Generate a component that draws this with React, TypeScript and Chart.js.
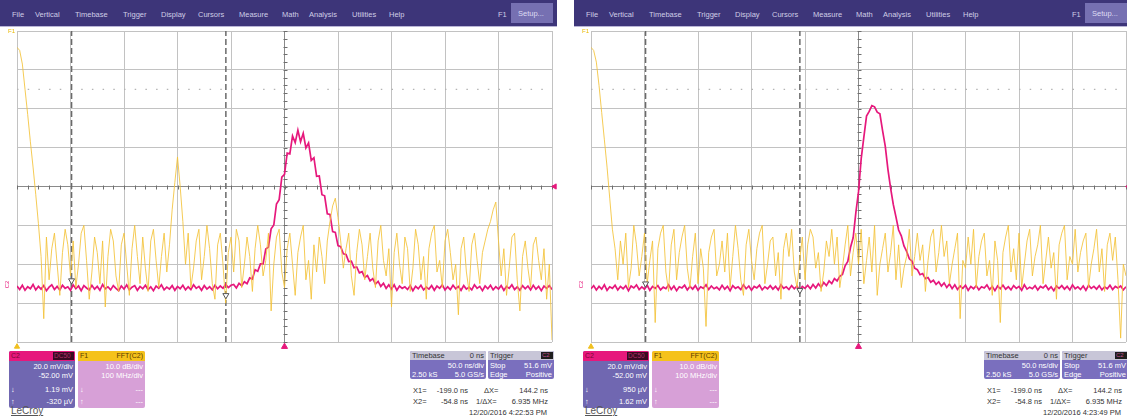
import React, { useEffect, useRef } from "react";
import { Chart, registerables } from "chart.js";

Chart.register(...registerables);

// ---- sampling grid (ns) ----
const START_NS = -250;
const STEP_NS = 2.5;
const X_MIN_NS = -250;
const X_MAX_NS = 250;
const X_DIV_NS = 50;
const Y_MIN_DIV = -4;
const Y_MAX_DIV = 4;

// ---- cursor readouts ----
const cursorX1Ns = -199.0;
const cursorX2Ns = -54.8;
const referenceLevelDiv = 2.5;
const triggerLevelDiv = 0;

// ---- left capture: C2 (divisions) ----
const leftC2 = [
  -2.56, -2.65, -2.54, -2.67, -2.58, -2.63, -2.52, -2.66, -2.57, -2.64,
  -2.55, -2.68, -2.59, -2.53, -2.65, -2.57, -2.66, -2.54, -2.62, -2.58,
  -2.67, -2.53, -2.63, -2.56, -2.68, -2.55, -2.61, -2.66, -2.54, -2.64,
  -2.57, -2.67, -2.52, -2.63, -2.58, -2.66, -2.55, -2.62, -2.68, -2.56,
  -2.64, -2.53, -2.66, -2.59, -2.55, -2.67, -2.57, -2.63, -2.54, -2.65,
  -2.58, -2.68, -2.56, -2.62, -2.53, -2.66, -2.59, -2.64, -2.55, -2.67,
  -2.57, -2.63, -2.54, -2.66, -2.58, -2.65, -2.53, -2.62, -2.57, -2.67,
  -2.55, -2.64, -2.58, -2.66, -2.54, -2.63, -2.56, -2.62, -2.52, -2.60,
  -2.54, -2.52, -2.61, -2.49, -2.55, -2.45, -2.50, -2.35, -2.38, -2.14,
  -2.18, -1.99, -1.99, -1.61, -1.56, -1.09, -0.99, -0.45, -0.34, 0.24,
  0.31, 0.86, 0.84, 1.30, 1.13, 1.45, 1.15, 1.37, 0.99, 1.12,
  0.67, 0.74, 0.26, 0.27, -0.21, -0.24, -0.70, -0.72, -1.16, -1.18,
  -1.52, -1.55, -1.73, -1.75, -1.93, -1.92, -2.09, -2.07, -2.22, -2.19,
  -2.34, -2.29, -2.43, -2.37, -2.51, -2.44, -2.57, -2.49, -2.62, -2.53,
  -2.64, -2.53, -2.67, -2.56, -2.62, -2.58, -2.65, -2.55, -2.68, -2.57,
  -2.63, -2.54, -2.66, -2.59, -2.64, -2.55, -2.67, -2.56, -2.62, -2.53,
  -2.66, -2.58, -2.65, -2.54, -2.63, -2.57, -2.67, -2.55, -2.64, -2.59,
  -2.66, -2.53, -2.62, -2.57, -2.68, -2.56, -2.63, -2.54, -2.66, -2.58,
  -2.64, -2.55, -2.67, -2.57, -2.62, -2.53, -2.65, -2.58, -2.67, -2.55,
  -2.63, -2.56, -2.66, -2.54, -2.64, -2.57, -2.68, -2.56, -2.62, -2.55,
  -2.65,
];

// ---- left capture: F1 = FFT(C2) (divisions) ----
const leftF1 = [
  3.58, 3.5, 3.15, 2.5, 1.85, 1.15, 0.5, -0.2, -0.95, -1.8, -3.4,
  -1.3, -2.4, -1.6, -1.2, -2.0, -2.8, -1.7, -1.1, -1.5, -2.3,
  -1.4, -2.6, -2.0, -1.2, -1.0, -1.9, -2.9, -2.2, -1.3, -1.7,
  -2.5, -1.4, -3.1, -1.8, -1.1, -1.4, -2.3, -2.7, -1.5, -1.2,
  -2.0, -2.8, -1.6, -1.0, -1.8, -2.5, -1.3, -2.1, -2.7, -1.4,
  -1.1, -1.9, -2.6, -1.8, -1.2, -2.2, -1.5,
  -0.6, 0.1, 0.76, 0.0, -0.9,
  -2.0, -1.2, -2.6, -2.1, -1.4, -1.1, -2.4, -1.8,
  -1.0, -1.6, -2.5, -2.9, -1.5, -1.2, -2.0, -3.0, -1.7, -1.3,
  -2.2, -1.1, -1.4, -2.6, -2.0, -1.3, -1.8, -2.7, -1.6, -1.0,
  -1.5, -2.3, -1.9, -1.2, -3.2, -2.0, -1.3, -1.1, -2.2, -2.6,
  -1.6, -1.2, -2.0, -2.8, -1.7, -1.3, -1.0, -2.4, -1.9, -2.9,
  -1.5, -2.2, -1.3, -1.8, -2.5, -1.4, -0.9, -0.5, -0.3, -0.8,
  -1.4, -2.1, -1.6, -1.2, -2.3, -2.8, -1.7, -1.1, -1.5, -2.4,
  -1.8, -1.2, -2.1, -2.6, -1.4, -1.0, -1.9, -2.3, -1.6, -3.1,
  -1.7, -1.2, -2.0, -2.5, -1.3, -1.6, -2.7, -2.1, -1.1, -1.5,
  -2.4, -1.8, -2.9, -1.6, -1.2, -1.0, -2.2, -1.9, -2.6, -1.4,
  -1.1, -1.7, -2.4, -2.0, -3.3, -1.6, -1.3, -2.2, -2.7, -1.5,
  -1.2, -1.9, -2.5, -1.7, -1.4, -1.1, -0.9, -0.6, -0.4, -1.4,
  -2.3, -1.6, -2.8, -2.1, -1.3, -1.2, -2.4, -3.2, -1.8, -1.4,
  -2.1, -2.6, -1.5, -1.3, -1.9, -2.4, -1.6, -2.9, -2.0, -3.95,
];

// ---- right capture: C2 (divisions) ----
const rightC2 = [
  -2.63, -2.55, -2.66, -2.57, -2.64, -2.53, -2.67, -2.58, -2.62, -2.54,
  -2.66, -2.57, -2.63, -2.55, -2.68, -2.56, -2.61, -2.53, -2.65, -2.58,
  -2.64, -2.54, -2.67, -2.57, -2.62, -2.55, -2.66, -2.59, -2.63, -2.53,
  -2.65, -2.56, -2.68, -2.58, -2.61, -2.54, -2.66, -2.57, -2.64, -2.55,
  -2.67, -2.58, -2.62, -2.53, -2.65, -2.56, -2.63, -2.59, -2.66, -2.54,
  -2.64, -2.57, -2.68, -2.55, -2.62, -2.58, -2.65, -2.53, -2.63, -2.56,
  -2.67, -2.57, -2.61, -2.54, -2.66, -2.58, -2.63, -2.55, -2.64, -2.57,
  -2.66, -2.53, -2.62, -2.58, -2.65, -2.55, -2.63, -2.56, -2.67, -2.57,
  -2.62, -2.54, -2.63, -2.52, -2.61, -2.50, -2.59, -2.47, -2.55, -2.43,
  -2.50, -2.37, -2.43, -2.31, -2.26, -2.04, -1.93, -1.57, -1.32, -0.68,
  -0.14, 0.71, 1.27, 1.81, 1.93, 2.08, 2.05, 1.91, 1.87, 1.44,
  1.04, 0.44, -0.04, -0.46, -0.78, -1.12, -1.27, -1.53, -1.67, -1.86,
  -1.92, -2.10, -2.14, -2.27, -2.24, -2.37, -2.34, -2.46, -2.41, -2.52,
  -2.45, -2.56, -2.48, -2.60, -2.51, -2.63, -2.53, -2.65, -2.56, -2.62,
  -2.54, -2.67, -2.57, -2.63, -2.55, -2.66, -2.58, -2.61, -2.53, -2.65,
  -2.57, -2.68, -2.56, -2.63, -2.54, -2.64, -2.58, -2.66, -2.55, -2.62,
  -2.57, -2.67, -2.53, -2.64, -2.59, -2.63, -2.55, -2.66, -2.57, -2.61,
  -2.54, -2.65, -2.58, -2.68, -2.56, -2.62, -2.55, -2.64, -2.57, -2.66,
  -2.53, -2.63, -2.58, -2.65, -2.56, -2.67, -2.54, -2.62, -2.57, -2.64,
  -2.55, -2.66, -2.58, -2.63, -2.54, -2.65, -2.57, -2.61, -2.56, -2.66,
  -2.58,
];

// ---- right capture: F1 = FFT(C2) (divisions) ----
const rightF1 = [
  3.58, 3.5, 3.2, 2.6, 1.9, 1.2, 0.5, -0.3, -1.1, -1.6, -2.4,
  -1.4, -2.0, -1.2, -2.6, -2.1, -1.0, -1.5, -2.3, -1.8, -1.2,
  -2.5, -1.9, -1.4, -3.5, -1.6, -1.2, -1.0, -2.2, -2.7, -1.5,
  -1.1, -2.4, -1.7, -1.3, -1.0, -2.1, -2.6, -1.8, -1.2, -2.5,
  -1.6, -2.1, -3.6, -1.7, -1.3, -1.1, -2.3, -2.0, -1.4, -2.2,
  -1.2, -2.6, -1.8, -1.0, -1.6, -2.4, -2.8, -1.5, -1.1, -1.9,
  -2.4, -1.6, -1.2, -1.0, -2.5, -2.0, -1.4, -1.3, -2.3, -1.7,
  -2.9, -1.6, -1.2, -1.8, -1.1, -2.2, -2.6, -1.9, -1.3, -2.4,
  -1.5, -1.1, -1.3, -2.1, -1.7, -2.7, -2.2, -1.4, -1.8, -1.1,
  -2.0, -1.3, -2.6, -2.1, -1.5, -1.0, -2.3, -1.7, -1.2, -2.0,
  -1.1, -2.5, -1.9, -1.3, -2.2, -1.0, -2.8, -2.0, -1.6, -1.2,
  -2.2, -1.7, -1.0, -2.4, -1.5, -2.6, -2.1, -1.8, -1.1, -2.3,
  -1.8, -1.2, -1.9, -1.5, -2.7, -1.9, -1.3, -1.1, -2.2, -1.7,
  -1.0, -1.8, -1.4, -2.5, -2.0, -1.6, -1.2, -3.4, -1.9, -2.1,
  -1.3, -2.0, -1.1, -2.6, -1.8, -1.4, -1.2, -2.3, -1.9, -2.8,
  -1.4, -1.9, -3.5, -1.7, -1.3, -1.0, -2.2, -1.6, -2.4, -1.2,
  -2.6, -2.0, -1.4, -1.1, -2.3, -1.8, -1.5, -1.0, -2.5, -1.9,
  -1.3, -2.1, -1.7, -2.9, -1.5, -1.2, -1.0, -2.4, -1.8, -2.0,
  -1.1, -2.2, -1.7, -1.4, -1.2, -2.6, -2.0, -1.6, -1.1, -2.2,
  -1.6, -2.7, -1.5, -1.2, -1.9, -1.3, -2.4, -3.9, -2.0, -2.3,
];

// cursor intersection markers (divisions) at X1, X2
const leftCursorMarks = [-2.42, -2.8];
const rightCursorMarks = [-2.5, -2.67];

const MENU_ITEMS = ["File", "Vertical", "Timebase", "Trigger", "Display", "Cursors", "Measure", "Math", "Analysis", "Utilities", "Help"];
const MENU_LEFTS = [12, 35, 75, 123, 161, 198, 239, 282, 309, 352, 389];

const leftReadouts = ["20.0 mV/div", "-52.00 mV", "1.19 mV", "-320 µV"];
const rightReadouts = ["20.0 mV/div", "-52.00 mV", "950 µV", "1.62 mV"];
const f1Readouts = ["10.0 dB/div", "100 MHz/div", "---", "---"];
const leftStamp = "12/20/2016 4:22:53 PM";
const rightStamp = "12/20/2016 4:23:49 PM";

const FONT = '"Liberation Sans", Arial, sans-serif';
const PINK = "#e6187c";
const YELLOW = "rgba(243,194,55,0.85)";

const toPoints = (vals: number[]) => vals.map((v, i) => ({ x: START_NS + i * STEP_NS, y: v }));

const centerTicks = {
  id: "centerTicks",
  beforeDatasetsDraw(chart: any) {
    const { ctx, scales } = chart;
    const xs = scales.x, ys = scales.y;
    const cx = Math.round(xs.getPixelForValue(0)) + 0.5;
    const cy = Math.round(ys.getPixelForValue(0)) + 0.5;
    ctx.save();
    ctx.strokeStyle = "#6e6e6e";
    ctx.lineWidth = 1;
    ctx.beginPath();
    for (let v = X_MIN_NS; v <= X_MAX_NS; v += X_DIV_NS / 5) {
      const px = Math.round(xs.getPixelForValue(v)) + 0.5;
      ctx.moveTo(px, cy - 2);
      ctx.lineTo(px, cy + 2);
    }
    for (let k = Y_MIN_DIV * 5; k <= Y_MAX_DIV * 5; k++) {
      const py = Math.round(ys.getPixelForValue(k / 5)) + 0.5;
      ctx.moveTo(cx - 2, py);
      ctx.lineTo(cx + 2, py);
    }
    ctx.stroke();
    ctx.restore();
  },
};

function gridColor(c: any) {
  const v = c.tick ? c.tick.value : null;
  if (v === 0) return "#8a8a8a";
  return "#c2c2c2";
}

type PanelProps = {
  left: number;
  c2: number[];
  f1: number[];
  marks: number[];
  readouts: string[];
  stamp: string;
};

function Panel({ left, c2, f1, marks, readouts, stamp }: PanelProps) {
  const ref = useRef<HTMLCanvasElement>(null);
  useEffect(() => {
    if (!ref.current) return;
    const line = (data: any, color: string, width: number, order: number, dash?: number[]) => ({
      type: "scatter",
      data,
      showLine: true,
      borderColor: color,
      borderWidth: width,
      borderDash: dash || [],
      pointRadius: 0,
      tension: 0,
      order,
    });
    const chart = new Chart(ref.current, {
      type: "scatter",
      data: {
        datasets: [
          {
            data: [
              { x: cursorX1Ns, y: marks[0] },
              { x: cursorX2Ns, y: marks[1] },
            ],
            pointStyle: "triangle",
            rotation: 180,
            radius: 3.5,
            backgroundColor: "#ffffff",
            borderColor: "#555",
            borderWidth: 1,
            order: 0,
          } as any,
          line(toPoints(f1), YELLOW, 1, 1),
          line(toPoints(c2), PINK, 1.7, 2),
          line([{ x: cursorX1Ns, y: Y_MIN_DIV }, { x: cursorX1Ns, y: Y_MAX_DIV }], "#6a6a6a", 1.5, 3, [6, 3]),
          line([{ x: cursorX2Ns, y: Y_MIN_DIV }, { x: cursorX2Ns, y: Y_MAX_DIV }], "#6a6a6a", 1.5, 3, [6, 3]),
          line([{ x: X_MIN_NS, y: referenceLevelDiv }, { x: X_MAX_NS, y: referenceLevelDiv }], "#b4b4b4", 1.2, 4, [1.5, 9.2]),
          {
            data: [{ x: 0, y: Y_MIN_DIV - 0.12 }],
            pointStyle: "triangle",
            radius: 3.5,
            backgroundColor: PINK,
            borderColor: PINK,
            clip: false,
            order: 0,
          } as any,
          {
            data: [{ x: X_MAX_NS + 2.5, y: triggerLevelDiv }],
            pointStyle: "triangle",
            rotation: -90,
            radius: 3,
            backgroundColor: PINK,
            borderColor: PINK,
            clip: false,
            order: 0,
          } as any,
          {
            data: [{ x: X_MIN_NS, y: Y_MIN_DIV - 0.12 }],
            pointStyle: "triangle",
            radius: 3,
            backgroundColor: "#f0c020",
            borderColor: "#f0c020",
            clip: false,
            order: 0,
          } as any,
        ],
      },
      options: {
        animation: false,
        responsive: false,
        events: [],
        layout: { padding: { left: 17, right: 4, top: 2, bottom: 7 } },
        plugins: { legend: { display: false }, tooltip: { enabled: false } },
        scales: {
          x: {
            type: "linear",
            min: X_MIN_NS,
            max: X_MAX_NS,
            ticks: { display: false, stepSize: X_DIV_NS },
            grid: { color: gridColor, drawTicks: false, lineWidth: 1 },
            border: { display: false },
          },
          y: {
            type: "linear",
            min: Y_MIN_DIV,
            max: Y_MAX_DIV,
            ticks: { display: false, stepSize: 1 },
            grid: { color: gridColor, drawTicks: false, lineWidth: 1 },
            border: { display: false },
          },
        },
      } as any,
      plugins: [centerTicks],
    } as any);
    return () => chart.destroy();
  }, []);

  const txt = (s: any) => ({ position: "absolute" as const, fontFamily: FONT, fontSize: 7.5, lineHeight: "9px", whiteSpace: "nowrap" as const, ...s });

  return (
    <div style={{ position: "absolute", left, top: 0, width: 557, height: 418, overflow: "hidden", background: "#fff" }}>
      {/* menu bar */}
      <div style={{ position: "absolute", left: 0, top: 0, width: 557, height: 26, background: "#3d3579" }} />
      <div style={{ position: "absolute", left: 0, top: 26, width: 557, height: 1, background: "#b9b5d6" }} />
      {MENU_ITEMS.map((m, i) => (
        <div key={m} style={txt({ left: MENU_LEFTS[i], top: 10, color: "#cfcde6", fontSize: 7.5 })}>{m}</div>
      ))}
      <div style={txt({ left: 498, top: 10, color: "#cfcde6", fontSize: 7.5 })}>F1</div>
      <div style={{ position: "absolute", left: 511, top: 3, width: 42, height: 20, background: "#7670b2" }} />
      <div style={txt({ left: 518, top: 9, color: "#dedcf2", fontSize: 7.5 })}>Setup...</div>

      <canvas ref={ref} width={557} height={323} style={{ position: "absolute", left: 0, top: 26, width: 557, height: 323 }} />

      <div style={txt({ left: 8, top: 28, color: "#e8b800", fontSize: 6, lineHeight: "6px" })}>F1</div>
      <div style={txt({ left: 4, top: 280, color: PINK, fontSize: 6, transform: "rotate(-90deg)" })}>C2</div>

      {/* C2 box */}
      <div style={{ position: "absolute", left: 9, top: 351, width: 66, height: 57, background: "#7067b1", borderRadius: 2 }} />
      <div style={{ position: "absolute", left: 9, top: 351, width: 66, height: 10, background: PINK, borderRadius: "2px 2px 0 0" }} />
      <div style={txt({ left: 11, top: 351, color: "#7a0838", fontSize: 7 })}>C2</div>
      <div style={{ position: "absolute", left: 53, top: 352, width: 21, height: 8, background: "#3a0a22" }} />
      <div style={txt({ left: 54, top: 351, color: "#b0306a", fontSize: 6.5 })}>DC50</div>
      <div style={txt({ left: 9, top: 362, width: 64, textAlign: "right", color: "#fff" })}>{readouts[0]}</div>
      <div style={txt({ left: 9, top: 371, width: 64, textAlign: "right", color: "#fff" })}>{readouts[1]}</div>
      <div style={txt({ left: 11, top: 385, color: "#fff" })}>↓</div>
      <div style={txt({ left: 9, top: 385, width: 64, textAlign: "right", color: "#fff" })}>{readouts[2]}</div>
      <div style={txt({ left: 11, top: 397, color: "#fff" })}>↑</div>
      <div style={txt({ left: 9, top: 397, width: 64, textAlign: "right", color: "#fff" })}>{readouts[3]}</div>

      {/* F1 box */}
      <div style={{ position: "absolute", left: 78, top: 351, width: 67, height: 57, background: "#d7a0d7", borderRadius: 2 }} />
      <div style={{ position: "absolute", left: 78, top: 351, width: 67, height: 10, background: "#f5c21b", borderRadius: "2px 2px 0 0" }} />
      <div style={txt({ left: 80, top: 351, color: "#5a3b00", fontSize: 7 })}>F1</div>
      <div style={txt({ left: 78, top: 351, width: 65, textAlign: "right", color: "#5a3b00", fontSize: 7 })}>FFT(C2)</div>
      {f1Readouts.map((r, i) => (
        <div key={i} style={txt({ left: 78, top: [362, 371, 385, 397][i], width: 65, textAlign: "right", color: "#fff" })}>{r}</div>
      ))}
      <div style={txt({ left: 80, top: 385, color: "#fff" })}>↓</div>
      <div style={txt({ left: 80, top: 397, color: "#fff" })}>↑</div>

      {/* Timebase box */}
      <div style={{ position: "absolute", left: 410, top: 351, width: 76, height: 28, background: "#7a6fbe", borderRadius: 2 }} />
      <div style={{ position: "absolute", left: 410, top: 351, width: 76, height: 9, background: "#c8c6d8", borderRadius: "2px 2px 0 0" }} />
      <div style={txt({ left: 412, top: 351, color: "#333" })}>Timebase</div>
      <div style={txt({ left: 410, top: 351, width: 74, textAlign: "right", color: "#333" })}>0 ns</div>
      <div style={txt({ left: 410, top: 361, width: 74, textAlign: "right", color: "#fff" })}>50.0 ns/div</div>
      <div style={txt({ left: 412, top: 370, color: "#fff" })}>2.50 kS</div>
      <div style={txt({ left: 410, top: 370, width: 74, textAlign: "right", color: "#fff" })}>5.0 GS/s</div>

      {/* Trigger box */}
      <div style={{ position: "absolute", left: 488, top: 351, width: 66, height: 28, background: "#7a6fbe", borderRadius: 2 }} />
      <div style={{ position: "absolute", left: 488, top: 351, width: 66, height: 9, background: "#c8c6d8", borderRadius: "2px 2px 0 0" }} />
      <div style={txt({ left: 490, top: 351, color: "#333" })}>Trigger</div>
      <div style={{ position: "absolute", left: 541, top: 352, width: 12, height: 7, background: "#1e1e1e" }} />
      <div style={txt({ left: 542, top: 351, color: "#c05090", fontSize: 6 })}>C2</div>
      <div style={txt({ left: 490, top: 361, color: "#fff" })}>Stop</div>
      <div style={txt({ left: 488, top: 361, width: 64, textAlign: "right", color: "#fff" })}>51.6 mV</div>
      <div style={txt({ left: 490, top: 370, color: "#fff" })}>Edge</div>
      <div style={txt({ left: 488, top: 370, width: 64, textAlign: "right", color: "#fff" })}>Positive</div>

      {/* cursor readouts */}
      <div style={txt({ left: 413, top: 386, color: "#333" })}>X1=</div>
      <div style={txt({ left: 425, top: 386, width: 43, textAlign: "right", color: "#333" })}>-199.0 ns</div>
      <div style={txt({ left: 484, top: 386, color: "#333" })}>ΔX=</div>
      <div style={txt({ left: 500, top: 386, width: 48, textAlign: "right", color: "#333" })}>144.2 ns</div>
      <div style={txt({ left: 413, top: 397, color: "#333" })}>X2=</div>
      <div style={txt({ left: 425, top: 397, width: 43, textAlign: "right", color: "#333" })}>-54.8 ns</div>
      <div style={txt({ left: 476, top: 397, color: "#333" })}>1/ΔX=</div>
      <div style={txt({ left: 500, top: 397, width: 48, textAlign: "right", color: "#333" })}>6.935 MHz</div>
      <div style={txt({ left: 420, top: 408, width: 127, textAlign: "right", color: "#333" })}>{stamp}</div>

      {/* logo */}
      <div style={txt({ left: 11, top: 405, color: "#555", fontSize: 10, lineHeight: "12px", textDecoration: "underline" })}>LeCroy</div>
    </div>
  );
}

export default function App() {
  return (
    <div style={{ position: "fixed", left: 0, top: 0, width: 1127, height: 418, overflow: "hidden", background: "#fff" }}>
      <Panel left={0} c2={leftC2} f1={leftF1} marks={leftCursorMarks} readouts={leftReadouts} stamp={leftStamp} />
      <Panel left={574} c2={rightC2} f1={rightF1} marks={rightCursorMarks} readouts={rightReadouts} stamp={rightStamp} />
    </div>
  );
}
